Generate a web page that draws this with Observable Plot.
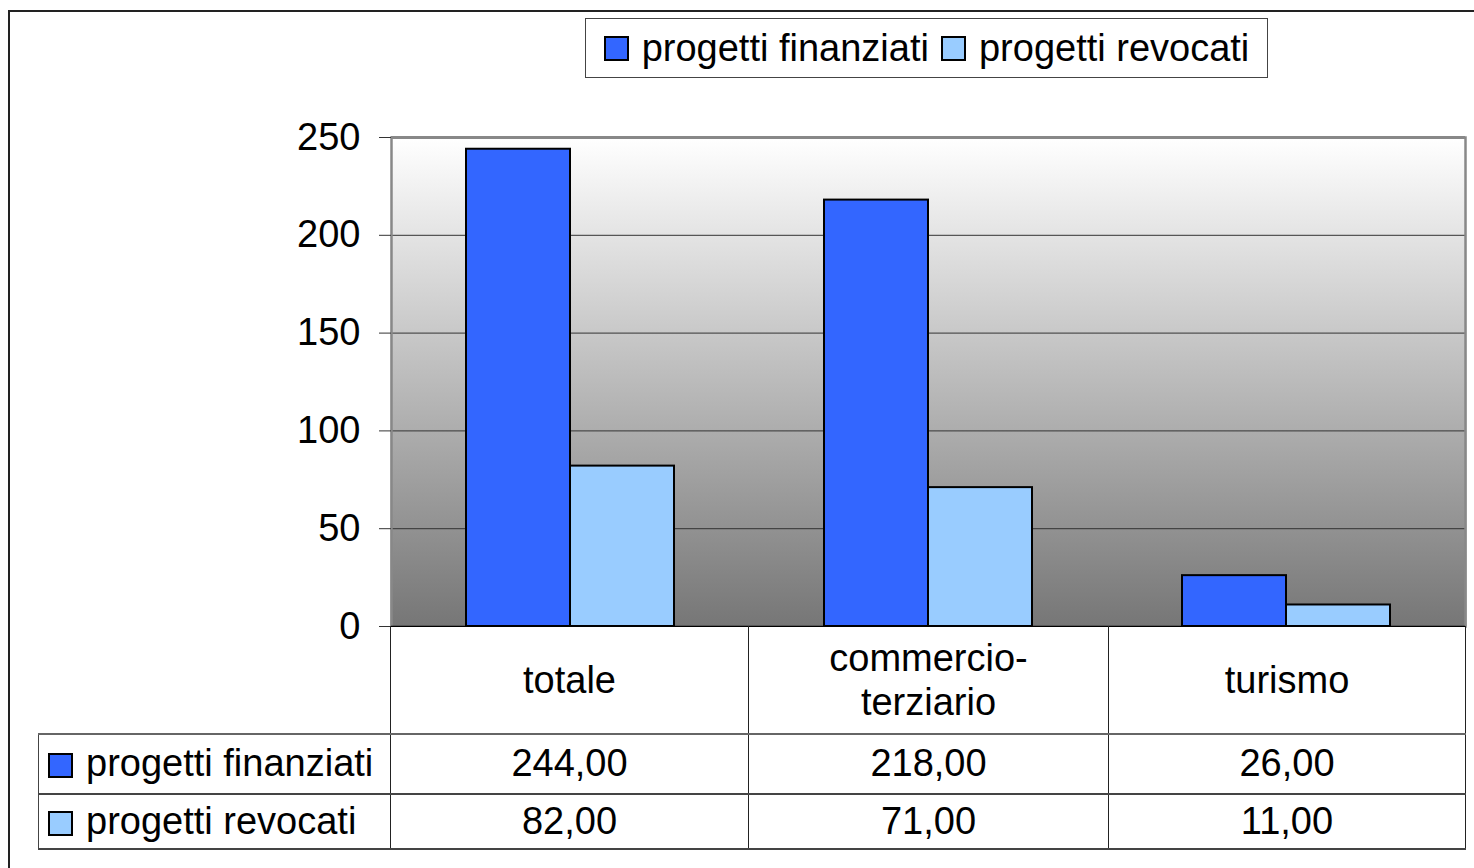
<!DOCTYPE html>
<html>
<head>
<meta charset="utf-8">
<script src="https://cdn.jsdelivr.net/npm/d3@7"></script>
<script src="https://cdn.jsdelivr.net/npm/@observablehq/plot@0.6"></script>
<style>
  html, body { margin: 0; padding: 0; background: #fff; }
  body { font-family: "Liberation Sans", Arial, sans-serif; color: #000; }
  #wrap { position: relative; width: 1474px; height: 868px; overflow: hidden; background: #fff; }
  #outer { position: absolute; left: 8px; top: 10px; width: 1500px; height: 900px;
           border-left: 2px solid #222; border-top: 2px solid #222; }
  #chart { position: absolute; left: 0; top: 0; }
  #legend { position: absolute; left: 585px; top: 18px; width: 681px; height: 58px;
            border: 1px solid #444; background: #fff; display: flex; align-items: center;
            justify-content: center; font-size: 38px; white-space: nowrap; }
  .sw { display: inline-block; width: 21px; height: 21px; border: 2px solid #000; margin-right: 13px; vertical-align: middle; }
  .li { display: inline-flex; align-items: center; margin: 0 6px; }
  #tbl { position: absolute; left: 38px; top: 626px; border-collapse: collapse; table-layout: fixed;
         font-size: 38px; background: #fff; }
  #tbl td { padding: 0; text-align: center; border: 1px solid #222; white-space: nowrap; }
  #tbl tr.body td { border-top: 2px solid #666; border-bottom: 2px solid #444; }
  #tbl td.blank { border: none; border-right: 1px solid #222; background: transparent; }
  #tbl td.lab { text-align: left; padding-left: 9px; border-left: 1.5px solid #444; }
  #tbl tr.head td.hd { line-height: 44px; border-top: 1.5px solid #000; }
</style>
</head>
<body>
<div id="wrap">
  <div id="outer"></div>
  <div id="chart"></div>
  <div id="legend"></div>
  <table id="tbl"></table>
</div>
<script>
// ---- data ----
const categories = ["totale", "commercio-terziario", "turismo"];
const categoryLines = [["totale"], ["commercio-", "terziario"], ["turismo"]];
const seriesNames = ["progetti finanziati", "progetti revocati"];
const finanziati = [244, 218, 26];
const revocati = [82, 71, 11];
const seriesColors = ["#3366ff", "#99ccff"];
const yTicks = [0, 50, 100, 150, 200, 250];

const seriesValues = [finanziati, revocati];
const rows = [];
categories.forEach((c, i) => {
  seriesNames.forEach((s, j) => rows.push({cat: c, serie: s, value: seriesValues[j][i]}));
});

const chart = Plot.plot({
  width: 1474,
  height: 660,
  marginLeft: 390,
  marginRight: 9,
  marginTop: 137,
  marginBottom: 34,
  style: {fontFamily: "'Liberation Sans', Arial, sans-serif", fontSize: "38px", color: "#000", background: "transparent", overflow: "visible"},
  fx: {domain: categories, padding: 0, axis: null, label: null},
  x: {domain: seriesNames, paddingInner: 0, paddingOuter: 0.72, axis: null},
  y: {domain: [0, 250], nice: false},
  color: {domain: seriesNames, range: seriesColors},
  marks: [
    Plot.frame({fill: "url(#bggrad)", stroke: null, insetLeft: -1, insetRight: -1}),
    Plot.gridY(yTicks, {stroke: "#333", strokeOpacity: 1, strokeWidth: 1}),
    Plot.ruleY([250], {stroke: "#888", strokeWidth: 3}),
    Plot.frame({anchor: "left", stroke: "#888", strokeWidth: 2.5, facetAnchor: "left"}),
    Plot.frame({anchor: "right", stroke: "#888", strokeWidth: 2.5, facetAnchor: "right"}),
    Plot.axisY({ticks: yTicks, tickSize: 12, tickPadding: 19, fontSize: 38, label: null, stroke: "#333"}),
    Plot.barY(rows, {fx: "cat", x: "serie", y: "value", fill: "serie", stroke: "#000", strokeWidth: 2, inset: 0}),
    Plot.ruleY([0], {stroke: "#000", strokeWidth: 1.5})
  ]
});

// gradient background
const svg = d3.select(chart);
const defs = svg.insert("defs", ":first-child");
const g = defs.append("linearGradient").attr("id", "bggrad").attr("x1", 0).attr("y1", 0).attr("x2", 0).attr("y2", 1);
g.append("stop").attr("offset", "0%").attr("stop-color", "#ffffff");
g.append("stop").attr("offset", "100%").attr("stop-color", "#767676");

document.getElementById("chart").appendChild(chart);

// legend
const legend = document.getElementById("legend");
seriesNames.forEach((s, j) => {
  const item = document.createElement("span");
  item.className = "li";
  item.innerHTML = `<span class="sw" style="background:${seriesColors[j]}"></span>${s}`;
  legend.appendChild(item);
});

// data table
const fmt = v => v.toFixed(2).replace(".", ",");
const colWidths = [352, 358, 360, 357];
const tbl = document.getElementById("tbl");
tbl.style.background = "transparent";
const cg = document.createElement("colgroup");
colWidths.forEach(w => { const c = document.createElement("col"); c.style.width = w + "px"; cg.appendChild(c); });
tbl.appendChild(cg);
tbl.style.width = d3.sum(colWidths) + "px";

const head = document.createElement("tr");
head.className = "head";
head.style.height = "107px";
head.innerHTML = `<td class="blank"></td>` + categoryLines.map(l => `<td class="hd" style="background:#fff">${l.join("<br>")}</td>`).join("");
tbl.appendChild(head);

const rowHeights = [60, 55];
seriesNames.forEach((s, j) => {
  const tr = document.createElement("tr");
  tr.className = "body";
  tr.style.height = rowHeights[j] + "px";
  tr.style.background = "#fff";
  tr.innerHTML = `<td class="lab"><span class="sw" style="background:${seriesColors[j]}"></span>${s}</td>` +
    seriesValues[j].map(v => `<td>${fmt(v)}</td>`).join("");
  tbl.appendChild(tr);
});
</script>
</body>
</html>
